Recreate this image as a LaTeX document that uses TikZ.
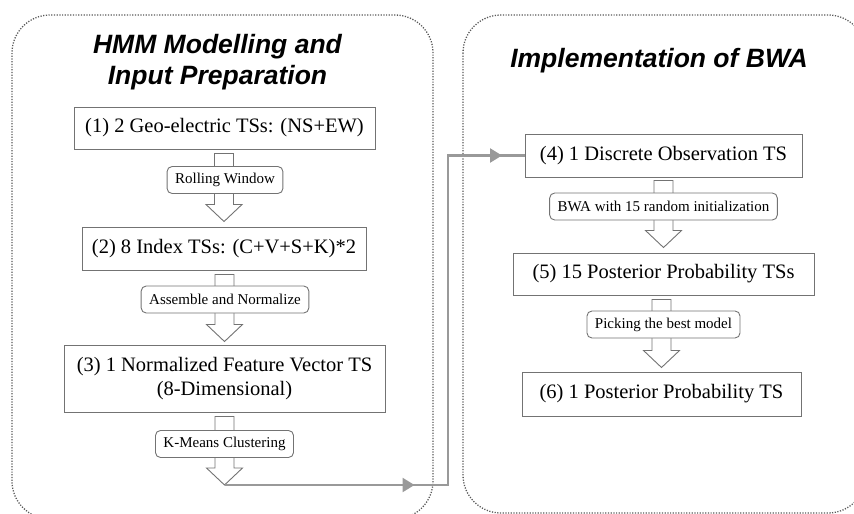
\documentclass[tikz,border=0pt]{standalone}
\usepackage{fontspec}
\setmainfont{Liberation Serif}
\newfontfamily\titlefont{Liberation Sans}
\usetikzlibrary{calc,arrows.meta,decorations.markings}
\tikzset{
  frame/.style={draw=black!65, line width=1.3pt, dash pattern=on 1.2pt off 1.5pt, rounded corners=38pt},
  stepbox/.style={draw=black!55, line width=1pt, fill=white, inner sep=0pt, align=center, font=\fontsize{20.5}{24}\selectfont},
  lab/.style={draw=black!55, line width=0.9pt, fill=white, rounded corners=5pt, inner xsep=8pt, inner ysep=0pt, minimum height=27pt, font=\fontsize{15}{18}\selectfont},
  hollow/.style={draw=black!55, line width=0.9pt, fill=white},
  conn/.style={draw=black!40, color=black!40, line width=2.5pt},
  title/.style={font=\titlefont\bfseries\itshape\fontsize{26.5}{30}\selectfont}
}
\newcommand\holarrow[2]{\draw[hollow] let \p1=(#1), \p2=(#2) in
  (\x2-9.5pt,\y1) -- (\x2+9.5pt,\y1) -- (\x2+9.5pt,\y2+17pt) -- (\x2+18pt,\y2+17pt)
  -- (\x2,\y2) -- (\x2-18pt,\y2+17pt) -- (\x2-9.5pt,\y2+17pt) -- cycle;}
\begin{document}
\begin{tikzpicture}[x=1pt,y=-1pt]
\useasboundingbox (0,0) rectangle (854,514);
% frames
\draw[frame] (12,15) rectangle (433,519);
\draw[frame] (463,15) rectangle (866,513);
% titles
\node[title, anchor=base] (t1) at (217.5,53) {HMM Modelling and};
\node[title, anchor=base] (t2) at (217.5,84) {Input Preparation};
\node[title, anchor=base] (t3) at (659,67) {Implementation of BWA};
% left column boxes
\node[stepbox, minimum width=301pt, minimum height=42pt] (b1) at (224.5,128) {(1) 2 Geo-electric TSs: (NS+EW)};
\node[stepbox, minimum width=284pt, minimum height=43pt] (b2) at (224,248.5) {(2) 8 Index TSs: (C+V+S+K)*2};
\node[stepbox, minimum width=321pt, minimum height=67pt] (b3) at (224.5,378.5) {(3) 1 Normalized Feature Vector TS\\(8-Dimensional)};
\coordinate (k) at (224.5,485);
% right column boxes
\node[stepbox, minimum width=277pt, minimum height=43pt] (b4) at (663.5,155.5) {(4) 1 Discrete Observation TS};
\node[stepbox, minimum width=301pt, minimum height=42pt] (b5) at (663.5,274) {(5) 15 Posterior Probability TSs};
\node[stepbox, minimum width=279pt, minimum height=44pt] (b6) at (661.5,394) {(6) 1 Posterior Probability TS};
% hollow arrows
\holarrow{$(b1.south)+(0,4)$}{$(b2.north)+(0,-5)$}
\holarrow{$(b2.south)+(0,4)$}{$(b3.north)+(0,-3)$}
\holarrow{$(b3.south)+(0,4)$}{k}
\holarrow{$(b4.south)+(0,3)$}{$(b5.north)+(0,-5)$}
\holarrow{$(b5.south)+(0,4)$}{$(b6.north)+(0,-4)$}
% labels
\node[lab] (l1) at (225,180) {Rolling Window};
\node[lab] (l2) at (225,299.5) {Assemble and Normalize};
\node[lab] (l3) at (224.5,444) {K-Means Clustering};
\node[lab] (l4) at (663.5,206.5) {BWA with 15 random initialization};
\node[lab] (l5) at (663.5,324.5) {Picking the best model};
% connector
\coordinate (c1) at (448,485);
\coordinate (c2) at (448,155.5);
\draw[conn, postaction={decorate}, decoration={markings,
    mark=at position 190pt with {\arrow{Triangle[length=12pt,width=14pt]}},
    mark=at position 607pt with {\arrow{Triangle[length=12pt,width=14pt]}}}]
  (k) -- (c1) -- (c2) -- (b4.west);
\end{tikzpicture}
\end{document}
